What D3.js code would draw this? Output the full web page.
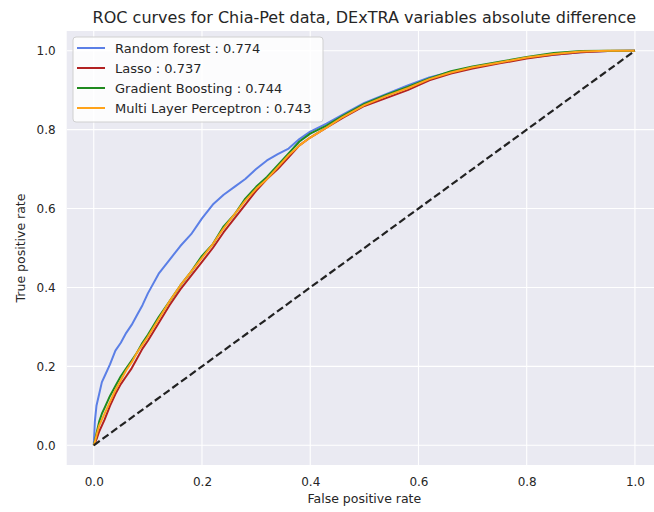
<!DOCTYPE html>
<html>
<head>
<meta charset="utf-8">
<script src="https://cdn.jsdelivr.net/npm/d3@7"></script>
<style>
  body { margin: 0; background: #fff; }
  text { font-family: "DejaVu Sans", sans-serif; fill: #262626; }
</style>
</head>
<body>
<div id="chart"></div>
<script>
// false positive rate grid shared by every curve
const fpr = [0, 0.002, 0.005, 0.01, 0.015, 0.02, 0.03, 0.04, 0.05, 0.06, 0.07, 0.08, 0.09, 0.10,
  0.12, 0.14, 0.16, 0.18, 0.20, 0.22, 0.24, 0.26, 0.28, 0.30, 0.32, 0.34, 0.36, 0.38, 0.40,
  0.43, 0.46, 0.50, 0.54, 0.58, 0.62, 0.66, 0.70, 0.75, 0.80, 0.85, 0.90, 0.95, 1.0];

// true positive rate per model
const tprForest = [0, 0.06, 0.10, 0.13, 0.16, 0.175, 0.205, 0.24, 0.26, 0.285, 0.305, 0.33, 0.355, 0.385,
  0.435, 0.47, 0.505, 0.535, 0.575, 0.61, 0.635, 0.655, 0.675, 0.7, 0.722, 0.738, 0.752, 0.776, 0.795,
  0.815, 0.838, 0.868, 0.89, 0.912, 0.932, 0.946, 0.958, 0.970, 0.982, 0.99, 0.996, 0.999, 1];
const tprLasso = [0, 0.005, 0.015, 0.035, 0.05, 0.065, 0.10, 0.13, 0.155, 0.175, 0.195, 0.22, 0.245, 0.265,
  0.31, 0.355, 0.395, 0.43, 0.465, 0.50, 0.54, 0.575, 0.61, 0.645, 0.675, 0.70, 0.73, 0.76, 0.78,
  0.805, 0.83, 0.86, 0.88, 0.90, 0.925, 0.942, 0.955, 0.968, 0.98, 0.99, 0.996, 0.999, 1];
const tprBoost = [0, 0.01, 0.03, 0.06, 0.08, 0.095, 0.125, 0.15, 0.175, 0.195, 0.215, 0.235, 0.26, 0.28,
  0.325, 0.365, 0.405, 0.44, 0.48, 0.51, 0.555, 0.585, 0.625, 0.655, 0.68, 0.71, 0.74, 0.77, 0.79,
  0.81, 0.835, 0.865, 0.888, 0.908, 0.93, 0.948, 0.96, 0.972, 0.984, 0.994, 0.999, 1, 1];
const tprMlp = [0, 0.008, 0.025, 0.05, 0.065, 0.08, 0.11, 0.14, 0.165, 0.19, 0.21, 0.235, 0.255, 0.275,
  0.32, 0.365, 0.405, 0.44, 0.475, 0.51, 0.55, 0.585, 0.62, 0.65, 0.675, 0.705, 0.735, 0.76, 0.78,
  0.805, 0.832, 0.862, 0.885, 0.905, 0.928, 0.945, 0.958, 0.97, 0.983, 0.992, 0.998, 1, 1];

const seriesNames = ["Random forest : 0.774", "Lasso : 0.737", "Gradient Boosting : 0.744", "Multi Layer Perceptron : 0.743"];
const seriesColors = ["#5b7fe6", "#b22222", "#1f8a1f", "#ffa31a"];
const seriesTpr = [tprForest, tprLasso, tprBoost, tprMlp];
const ticks = [0, 0.2, 0.4, 0.6, 0.8, 1.0];

const width = 654, height = 512;
const plot = { left: 66.7, top: 31, right: 662, bottom: 465 };

const svg = d3.select("#chart").append("svg")
  .attr("width", width)
  .attr("height", height);

const x = d3.scaleLinear().domain([-0.05, 1.05]).range([plot.left, plot.right]);
const y = d3.scaleLinear().domain([-0.05, 1.05]).range([plot.bottom, plot.top]);

// clip so the axes area runs off the right edge like the original
svg.append("defs").append("clipPath").attr("id", "clip")
  .append("rect")
  .attr("x", plot.left).attr("y", plot.top)
  .attr("width", plot.right - plot.left).attr("height", plot.bottom - plot.top);

svg.append("rect")
  .attr("x", plot.left).attr("y", plot.top)
  .attr("width", plot.right - plot.left).attr("height", plot.bottom - plot.top)
  .attr("fill", "#eaeaf2");

// grid
const grid = svg.append("g").attr("clip-path", "url(#clip)");
grid.selectAll(".gx").data(ticks).enter().append("line")
  .attr("x1", d => x(d)).attr("x2", d => x(d))
  .attr("y1", plot.top).attr("y2", plot.bottom)
  .attr("stroke", "#fff").attr("stroke-width", 1.1);
grid.selectAll(".gy").data(ticks).enter().append("line")
  .attr("x1", plot.left).attr("x2", plot.right)
  .attr("y1", d => y(d)).attr("y2", d => y(d))
  .attr("stroke", "#fff").attr("stroke-width", 1.1);

// axes (no domain line, no tick marks)
const xAxis = svg.append("g")
  .attr("transform", `translate(0,${plot.bottom})`)
  .call(d3.axisBottom(x).tickValues(ticks).tickFormat(d3.format(".1f")).tickSize(0).tickPadding(12));
const yAxis = svg.append("g")
  .attr("transform", `translate(${plot.left},0)`)
  .call(d3.axisLeft(y).tickValues(ticks).tickFormat(d3.format(".1f")).tickSize(0).tickPadding(11));
[xAxis, yAxis].forEach(a => {
  a.select(".domain").remove();
  a.selectAll("text").attr("font-family", "DejaVu Sans").attr("font-size", 12).attr("fill", "#3d3d3d");
});

// curves
const line = d3.line().x((d, i) => x(fpr[i])).y(d => y(d));
const curves = svg.append("g").attr("clip-path", "url(#clip)");
seriesTpr.forEach((tpr, k) => {
  curves.append("path")
    .datum(tpr)
    .attr("d", line)
    .attr("fill", "none")
    .attr("stroke", seriesColors[k])
    .attr("stroke-width", 2)
    .attr("stroke-linejoin", "round");
});

// chance diagonal
curves.append("line")
  .attr("x1", x(0)).attr("y1", y(0))
  .attr("x2", x(1)).attr("y2", y(1))
  .attr("stroke", "#222").attr("stroke-width", 2.2)
  .attr("stroke-dasharray", "7.4,3.4");

// legend
const lg = svg.append("g").attr("transform", "translate(73,37)");
lg.append("rect")
  .attr("width", 250).attr("height", 85)
  .attr("rx", 3)
  .attr("fill", "#fff").attr("fill-opacity", 0.85)
  .attr("stroke", "#d0d0d0").attr("stroke-width", 1);
seriesNames.forEach((name, k) => {
  const row = lg.append("g").attr("transform", `translate(0,${11 + k * 20})`);
  row.append("line")
    .attr("x1", 4).attr("x2", 32)
    .attr("stroke", seriesColors[k]).attr("stroke-width", 2);
  row.append("text")
    .attr("x", 42).attr("y", 4.5)
    .attr("font-size", 13)
    .attr("fill", "#262626")
    .text(name);
});

// titles
svg.append("text")
  .attr("x", (plot.left + plot.right) / 2).attr("y", 23)
  .attr("text-anchor", "middle")
  .attr("font-size", 16)
  .text("ROC curves for Chia-Pet data, DExTRA variables absolute difference");

svg.append("text")
  .attr("x", (plot.left + plot.right) / 2).attr("y", 503)
  .attr("text-anchor", "middle")
  .attr("font-size", 12.5)
  .text("False positive rate");

svg.append("text")
  .attr("transform", `translate(25,${(plot.top + plot.bottom) / 2}) rotate(-90)`)
  .attr("text-anchor", "middle")
  .attr("font-size", 12.5)
  .text("True positive rate");
</script>
</body>
</html>
